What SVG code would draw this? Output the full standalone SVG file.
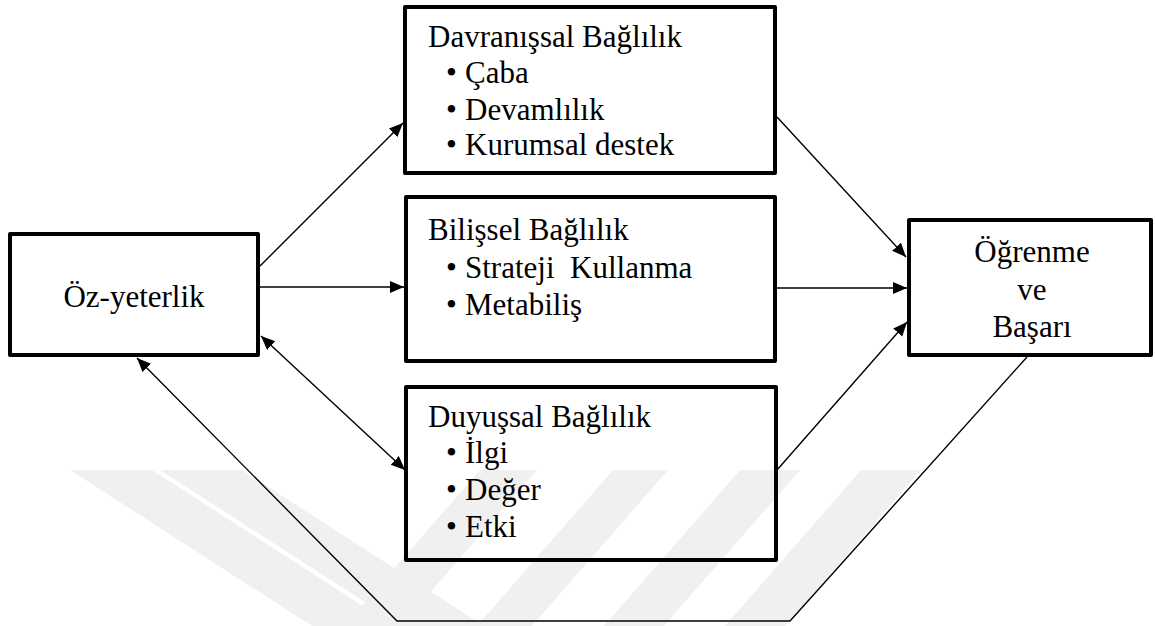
<svg xmlns="http://www.w3.org/2000/svg" width="1155" height="626" viewBox="0 0 1155 626">
  <style>
    .box { fill: none; stroke: #000; stroke-width: 4; stroke-linejoin: round; }
    .lbl { font-family: "Liberation Serif", "Times New Roman", serif; font-size: 31px; fill: #000; }
    .mid { text-anchor: middle; }
    .conn { fill: none; stroke: #000; stroke-width: 1.4; }
    .wm { fill: #f0f0f0; }
  </style>
  <defs>
    <marker id="arrow" markerUnits="userSpaceOnUse" markerWidth="15" markerHeight="13" refX="14" refY="6" orient="auto-start-reverse">
      <path d="M0,0 L14,6 L0,12 z" fill="#000"/>
    </marker>
  </defs>
  <rect width="1155" height="626" fill="#fff"/>

  <!-- faint background emblem: diagonal bands -->
  <g id="emblem">
    <polygon class="wm" points="70,470 152,470 394,626 312,626"/>
    <polygon class="wm" points="160,470 242,470 484,626 402,626"/>
    <polygon class="wm" points="480,470 537,470 401,626 344,626"/>
    <polygon class="wm" points="613,470 668,470 532,626 477,626"/>
    <polygon class="wm" points="740,470 800,470 664,626 604,626"/>
    <polygon class="wm" points="861,470 921,470 785,626 725,626"/>
  </g>

  <!-- connectors -->
  <g id="connectors">
    <line class="conn" x1="260" y1="266" x2="403" y2="123" marker-end="url(#arrow)"/>
    <line class="conn" x1="260" y1="287" x2="404" y2="287" marker-end="url(#arrow)"/>
    <line class="conn" x1="261" y1="336" x2="405" y2="470" marker-start="url(#arrow)" marker-end="url(#arrow)"/>
    <line class="conn" x1="777" y1="117" x2="906" y2="257" marker-end="url(#arrow)"/>
    <line class="conn" x1="777" y1="288" x2="907" y2="288" marker-end="url(#arrow)"/>
    <line class="conn" x1="777" y1="470" x2="907" y2="322" marker-end="url(#arrow)"/>
    <polyline class="conn" points="1027,357 790,621 397,621 137,358" marker-end="url(#arrow)"/>
  </g>

  <g id="oz-yeterlik">
    <rect class="box" x="10" y="234" width="248" height="121"/>
    <text class="lbl mid" x="134" y="307">Öz-yeterlik</text>
  </g>

  <g id="davranissal">
    <rect class="box" x="405" y="7" width="370" height="166"/>
    <text class="lbl" x="428" y="47">Davranışsal Bağlılık</text>
    <text class="lbl" x="446" y="83">•</text><text class="lbl" x="465" y="83">Çaba</text>
    <text class="lbl" x="446" y="120">•</text><text class="lbl" x="465" y="120">Devamlılık</text>
    <text class="lbl" x="446" y="155">•</text><text class="lbl" x="465" y="155">Kurumsal destek</text>
  </g>

  <g id="bilissel">
    <rect class="box" x="406" y="197" width="369" height="164"/>
    <text class="lbl" x="428" y="240">Bilişsel Bağlılık</text>
    <text class="lbl" x="446" y="278">•</text><text class="lbl" x="465" y="278" style="white-space:pre">Strateji  Kullanma</text>
    <text class="lbl" x="446" y="315">•</text><text class="lbl" x="465" y="315">Metabiliş</text>
  </g>

  <g id="duyussal">
    <rect class="box" x="406" y="387" width="370" height="173"/>
    <text class="lbl" x="428" y="427">Duyuşsal Bağlılık</text>
    <text class="lbl" x="446" y="463">•</text><text class="lbl" x="465" y="463">İlgi</text>
    <text class="lbl" x="446" y="500">•</text><text class="lbl" x="465" y="500">Değer</text>
    <text class="lbl" x="446" y="537">•</text><text class="lbl" x="465" y="537">Etki</text>
  </g>

  <g id="ogrenme-basari">
    <rect class="box" x="909" y="220" width="242" height="135"/>
    <text class="lbl mid" x="1032" y="262">Öğrenme</text>
    <text class="lbl mid" x="1032" y="300">ve</text>
    <text class="lbl mid" x="1032" y="337">Başarı</text>
  </g>
</svg>
